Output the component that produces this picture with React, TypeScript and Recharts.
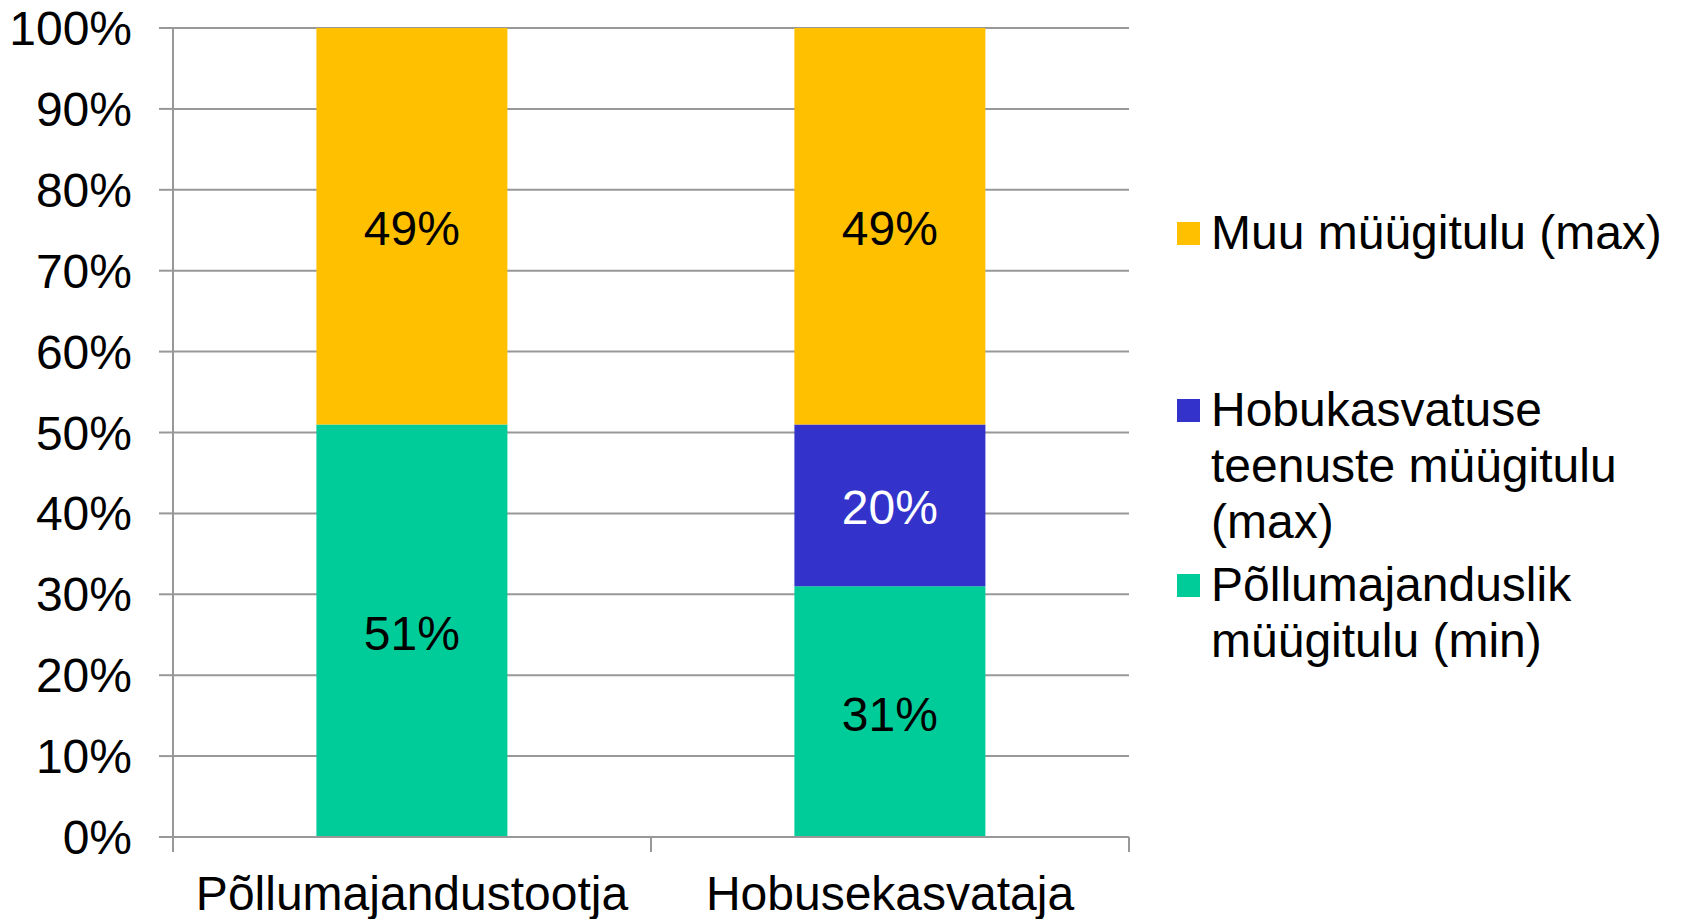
import React from 'react';
import { BarChart, Bar, XAxis, YAxis, CartesianGrid, Legend, LabelList } from 'recharts';

const categories = ['Põllumajandustootja', 'Hobusekasvataja'];
const agricultural = [51, 31];
const horseServices = [0, 20];
const otherSales = [49, 49];
const seriesNames = [
  'Põllumajanduslik müügitulu (min)',
  'Hobukasvatuse teenuste müügitulu (max)',
  'Muu müügitulu (max)',
];
const seriesColors = ['#00CC99', '#3333CC', '#FFC000'];
const labelColors = ['#000000', '#FFFFFF', '#000000'];
const yTicks = [0, 10, 20, 30, 40, 50, 60, 70, 80, 90, 100];

const data = categories.map((c, i) => ({
  category: c,
  agri: agricultural[i],
  horse: horseServices[i],
  other: otherSales[i],
}));
const keys = ['agri', 'horse', 'other'];

const W = 1681;
const H = 919;
const MARGIN = { top: 28, right: 552, left: 0, bottom: 0 };
const Y_AXIS_W = 173;
const X_AXIS_H = 82;
const PLOT_W = W - MARGIN.right - Y_AXIS_W;
const FONT = '"Liberation Sans", Arial, sans-serif';
const GRID = '#989898';

const XTick = (props: any) => {
  const { x, y, payload, index } = props;
  const half = PLOT_W / categories.length / 2;
  return (
    <g>
      <line x1={x - half} x2={x - half} y1={y - 15} y2={y} stroke={GRID} strokeWidth={2} />
      {index === categories.length - 1 && (
        <line x1={x + half} x2={x + half} y1={y - 15} y2={y} stroke={GRID} strokeWidth={2} />
      )}
      <text x={x} y={y + 58} textAnchor="middle" fontSize={48} fontFamily={FONT} fill="#000">
        {payload.value}
      </text>
    </g>
  );
};

const legendTops = [205, 382, 557];

const LegendContent = () => {
  const order = [2, 1, 0];
  return (
    <div style={{ position: 'relative', width: 500, height: H, fontFamily: FONT }}>
      {order.map((si, i) => (
        <div key={si} style={{ position: 'absolute', left: 0, top: legendTops[i], width: 500 }}>
          <div
            style={{
              position: 'absolute',
              left: 0,
              top: 28 - 11.5,
              width: 23,
              height: 23,
              background: seriesColors[si],
            }}
          />
          <div
            style={{
              position: 'absolute',
              left: 34,
              top: 0,
              width: 466,
              fontSize: 48,
              lineHeight: '56px',
              color: '#000',
              textAlign: 'left',
            }}
          >
            {seriesNames[si]}
          </div>
        </div>
      ))}
    </div>
  );
};

export default function App() {
  return (
    <div style={{ position: 'absolute', left: 0, top: 0, width: W, height: H, background: '#fff' }}>
      <BarChart width={W} height={H} data={data} margin={MARGIN} barCategoryGap="30%">
        <CartesianGrid vertical={false} stroke={GRID} strokeWidth={2} />
        <XAxis
          dataKey="category"
          height={X_AXIS_H}
          tickLine={false}
          tickSize={15}
          tickMargin={0}
          axisLine={{ stroke: GRID, strokeWidth: 2 }}
          tick={<XTick />}
          interval={0}
        />
        <YAxis
          width={Y_AXIS_W}
          domain={[0, 100]}
          ticks={yTicks}
          interval={0}
          tickFormatter={(v: number) => `${v}%`}
          axisLine={{ stroke: GRID, strokeWidth: 2 }}
          tickLine={{ stroke: GRID, strokeWidth: 2 }}
          tickSize={14}
          tickMargin={27}
          tick={{ fontSize: 48, fontFamily: FONT, fill: '#000' }}
        />
        <Legend
          layout="horizontal"
          verticalAlign="middle"
          align="center"
          wrapperStyle={{ left: 1177, top: 0, width: 500, height: H }}
          content={<LegendContent />}
        />
        {keys.map((k, i) => (
          <Bar key={k} dataKey={k} name={seriesNames[i]} stackId="a" fill={seriesColors[i]} isAnimationActive={false}>
            <LabelList
              dataKey={k}
              position="center"
              formatter={(v: any) => (v ? `${v}%` : '')}
              fill={labelColors[i]}
              fontSize={48}
              fontFamily={FONT}
              dy={2}
            />
          </Bar>
        ))}
      </BarChart>
    </div>
  );
}
